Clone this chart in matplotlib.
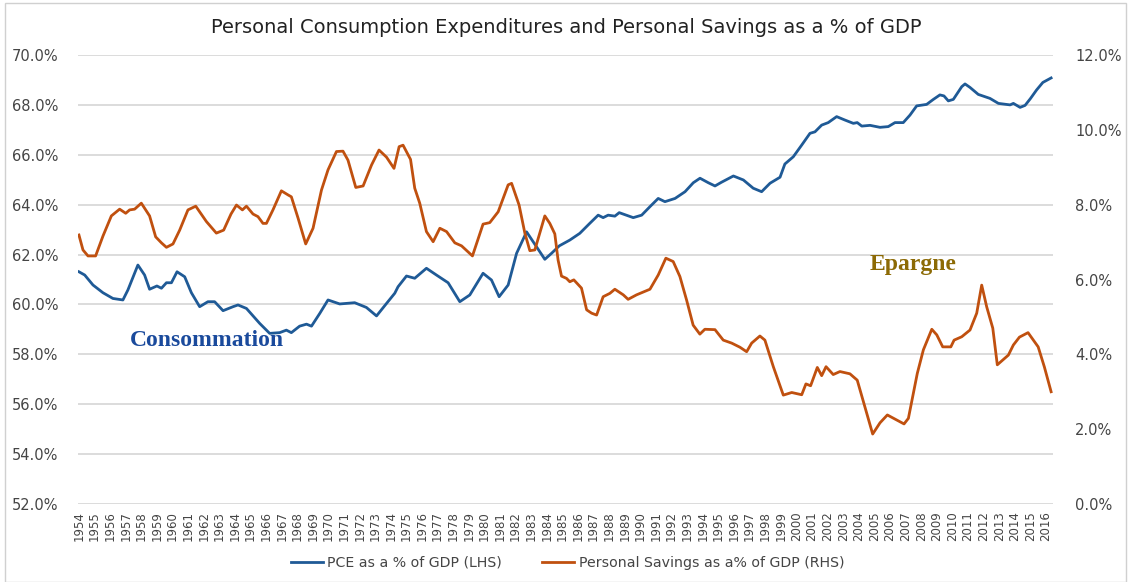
import matplotlib
matplotlib.use('Agg')
import matplotlib.pyplot as plt
from matplotlib.ticker import FuncFormatter
from matplotlib.patches import Rectangle

# PCE as % of GDP (left axis)
pce_years = [1954.0, 1954.37, 1954.9, 1955.54, 1956.18, 1956.82, 1957.14, 1957.78, 1958.21, 1958.53,
             1959.0, 1959.29, 1959.61, 1959.93, 1960.29, 1960.78, 1961.21, 1961.74, 1962.27, 1962.7,
             1963.24, 1963.88, 1964.2, 1964.74, 1965.59, 1966.23, 1966.87, 1967.3, 1967.62, 1968.15,
             1968.59, 1968.91, 1969.44, 1969.97, 1970.72, 1971.68, 1972.43, 1973.08, 1973.72, 1974.25,
             1974.46, 1975.0, 1975.53, 1976.28, 1976.92, 1977.67, 1978.42, 1979.06, 1979.91, 1980.45,
             1980.94, 1981.52, 1982.06, 1982.7, 1983.34, 1983.87, 1984.3, 1984.8, 1985.47, 1986.11,
             1986.75, 1987.29, 1987.61, 1987.93, 1988.36, 1988.64, 1989.54, 1990.08, 1990.61, 1991.14,
             1991.57, 1992.22, 1992.86, 1993.39, 1993.82, 1994.35, 1994.78, 1995.2, 1995.96, 1996.6,
             1997.23, 1997.77, 1998.31, 1998.95, 1999.26, 1999.8, 2000.34, 2000.87, 2001.19, 2001.62,
             2002.04, 2002.58, 2003.12, 2003.65, 2003.9, 2004.19, 2004.72, 2005.36, 2005.89, 2006.32,
             2006.85, 2007.28, 2007.71, 2008.35, 2008.78, 2009.2, 2009.46, 2009.74, 2010.06, 2010.6,
             2010.81, 2011.13, 2011.66, 2012.41, 2012.95, 2013.7, 2013.91, 2014.34, 2014.66, 2015.0,
             2015.4, 2015.8, 2016.33]
pce_values = [61.31, 61.18, 60.78, 60.47, 60.24, 60.18, 60.58, 61.58, 61.18, 60.61,
              60.74, 60.65, 60.87, 60.87, 61.31, 61.11, 60.47, 59.91, 60.11, 60.11,
              59.75, 59.91, 59.98, 59.84, 59.24, 58.84, 58.87, 58.97, 58.87, 59.13,
              59.21, 59.13, 59.64, 60.18, 60.02, 60.07, 59.88, 59.54, 60.04, 60.45,
              60.71, 61.14, 61.05, 61.45, 61.18, 60.87, 60.11, 60.38, 61.25, 60.98,
              60.31, 60.78, 62.05, 62.91, 62.31, 61.81, 62.05, 62.35, 62.58, 62.85,
              63.25, 63.58, 63.48, 63.58, 63.54, 63.68, 63.48, 63.58, 63.92, 64.25,
              64.12, 64.25, 64.52, 64.88, 65.06, 64.88, 64.75, 64.9, 65.15, 64.99,
              64.66, 64.52, 64.86, 65.1, 65.63, 65.92, 66.39, 66.86, 66.92, 67.19,
              67.29, 67.53, 67.39, 67.26, 67.29, 67.15, 67.18, 67.10, 67.13, 67.29,
              67.29, 67.59, 67.96, 68.02, 68.22, 68.40, 68.36, 68.16, 68.22, 68.73,
              68.84, 68.70, 68.42, 68.26, 68.06, 68.0, 68.06, 67.9, 67.98, 68.25,
              68.6, 68.9, 69.08]

# Personal savings as % of GDP (right axis)
sav_years = [1954.0, 1954.26, 1954.58, 1955.07, 1955.54, 1956.08, 1956.61, 1957.0, 1957.25, 1957.57,
             1958.0, 1958.53, 1958.92, 1959.29, 1959.61, 1960.03, 1960.46, 1960.99, 1961.49, 1962.17,
             1962.81, 1963.28, 1963.75, 1964.1, 1964.48, 1964.74, 1965.16, 1965.48, 1965.8, 1966.02,
             1966.44, 1966.98, 1967.41, 1967.62, 1968.05, 1968.54, 1969.01, 1969.55, 1969.97, 1970.51,
             1970.93, 1971.25, 1971.75, 1972.22, 1972.76, 1973.24, 1973.72, 1974.2, 1974.53, 1974.78,
             1975.26, 1975.53, 1975.85, 1976.28, 1976.71, 1977.14, 1977.57, 1978.1, 1978.53, 1979.23,
             1979.91, 1980.34, 1980.88, 1981.52, 1981.74, 1982.22, 1982.59, 1982.91, 1983.23, 1983.87,
             1984.19, 1984.51, 1984.72, 1984.94, 1985.26, 1985.47, 1985.73, 1986.22, 1986.55, 1986.87,
             1987.19, 1987.61, 1988.04, 1988.36, 1988.9, 1989.21, 1989.75, 1990.61, 1991.14, 1991.63,
             1992.1, 1992.53, 1992.96, 1993.38, 1993.81, 1994.13, 1994.78, 1995.31, 1995.85, 1996.38,
             1996.81, 1997.13, 1997.66, 1997.98, 1998.52, 1999.16, 1999.7, 2000.34, 2000.61, 2000.91,
             2001.34, 2001.62, 2001.9, 2002.36, 2002.79, 2003.43, 2003.9, 2004.39, 2004.89, 2005.36,
             2005.83, 2006.32, 2006.9, 2007.18, 2007.5, 2007.75, 2008.14, 2008.68, 2009.0, 2009.38,
             2009.9, 2010.11, 2010.6, 2011.13, 2011.56, 2011.88, 2012.2, 2012.59, 2012.88, 2013.23,
             2013.59, 2013.91, 2014.3, 2014.66, 2014.85, 2015.5, 2015.9, 2016.33]
sav_values = [7.19, 6.79, 6.63, 6.63, 7.16, 7.70, 7.88, 7.77, 7.86, 7.88,
              8.04, 7.70, 7.14, 6.98, 6.86, 6.95, 7.32, 7.86, 7.96, 7.55,
              7.24, 7.32, 7.75, 7.99, 7.86, 7.96, 7.75, 7.68, 7.50, 7.50,
              7.86, 8.37, 8.26, 8.21, 7.64, 6.95, 7.37, 8.39, 8.93, 9.42,
              9.43, 9.19, 8.46, 8.50, 9.06, 9.46, 9.27, 8.97, 9.55, 9.59,
              9.21, 8.44, 8.04, 7.28, 7.01, 7.37, 7.28, 6.98, 6.90, 6.63,
              7.48, 7.52, 7.81, 8.53, 8.57, 7.99, 7.24, 6.77, 6.79, 7.70,
              7.50, 7.22, 6.52, 6.09, 6.03, 5.94, 5.99, 5.77, 5.19, 5.10,
              5.05, 5.54, 5.63, 5.74, 5.59, 5.47, 5.59, 5.74, 6.12, 6.57,
              6.48, 6.08, 5.45, 4.78, 4.54, 4.67, 4.66, 4.38, 4.30, 4.19,
              4.07, 4.30, 4.49, 4.38, 3.67, 2.91, 2.98, 2.92, 3.21, 3.16,
              3.65, 3.43, 3.67, 3.46, 3.54, 3.48, 3.31, 2.60, 1.87, 2.17,
              2.38, 2.27, 2.14, 2.29, 2.96, 3.49, 4.12, 4.67, 4.52, 4.20,
              4.20, 4.38, 4.47, 4.65, 5.10, 5.85, 5.27, 4.70, 3.72, 3.85,
              3.98, 4.25, 4.46, 4.54, 4.58, 4.20, 3.66, 3.00]

year_labels = list(range(1954, 2017))

blue = '#1f5a96'
orange = '#c0500f'
tick_col = '#454545'

fig = plt.figure(figsize=(11.28, 5.82), dpi=100)
ax = fig.add_axes([0.069, 0.134, 0.8645, 0.7715])
ax2 = ax.twinx()

l1, = ax.plot(pce_years, pce_values, color=blue, lw=2.0, label='PCE as a % of GDP (LHS)')
l2, = ax2.plot(sav_years, sav_values, color=orange, lw=2.0, label='Personal Savings as a% of GDP (RHS)')

ax.set_xlim(1953.93, 2016.45)
ax.set_ylim(52, 70)
ax.set_yticks(range(52, 71, 2))
ax2.set_ylim(0, 12)
ax2.set_yticks(range(0, 13, 2))
pct = FuncFormatter(lambda v, p: '%.1f%%' % v)
ax.yaxis.set_major_formatter(pct)
ax2.yaxis.set_major_formatter(pct)

ax.set_xticks(year_labels)
ax.set_xticklabels([str(y) for y in year_labels], rotation=90, fontsize=8.5, color=tick_col)

ax.grid(axis='y', color='#d9d9d9', lw=1.3)
ax.set_axisbelow(True)
for a in (ax, ax2):
    for s in a.spines.values():
        s.set_visible(False)
ax.tick_params(axis='x', length=0, pad=5)
ax.tick_params(axis='y', length=0, pad=14, labelsize=10.5, labelcolor=tick_col)
ax2.tick_params(axis='y', length=0, pad=16, labelsize=10.5, labelcolor=tick_col)

fig.text(0.502, 0.953, 'Personal Consumption Expenditures and Personal Savings as a % of GDP',
         ha='center', va='center', fontsize=14, color='#222222')

ax.text(1957.25, 58.55, 'Consommation', family='Liberation Serif', fontweight='bold',
        fontsize=17, color='#1a4a9c', ha='left', va='center')
ax.text(2004.7, 61.6, 'Epargne', family='Liberation Serif', fontweight='bold',
        fontsize=17, color='#8c6a05', ha='left', va='center')

fig.legend([l1, l2], [l1.get_label(), l2.get_label()], loc='center', ncol=2,
           bbox_to_anchor=(0.503, 0.033), frameon=False, fontsize=10.2,
           handlelength=2.3, handletextpad=0.3, columnspacing=2.8, labelcolor=tick_col)

fig.patches.append(Rectangle((0.004, 0.0), 0.994, 0.995, transform=fig.transFigure,
                             fill=False, edgecolor='#d0d0d0', lw=1))

plt.savefig('out.png', dpi=100)
